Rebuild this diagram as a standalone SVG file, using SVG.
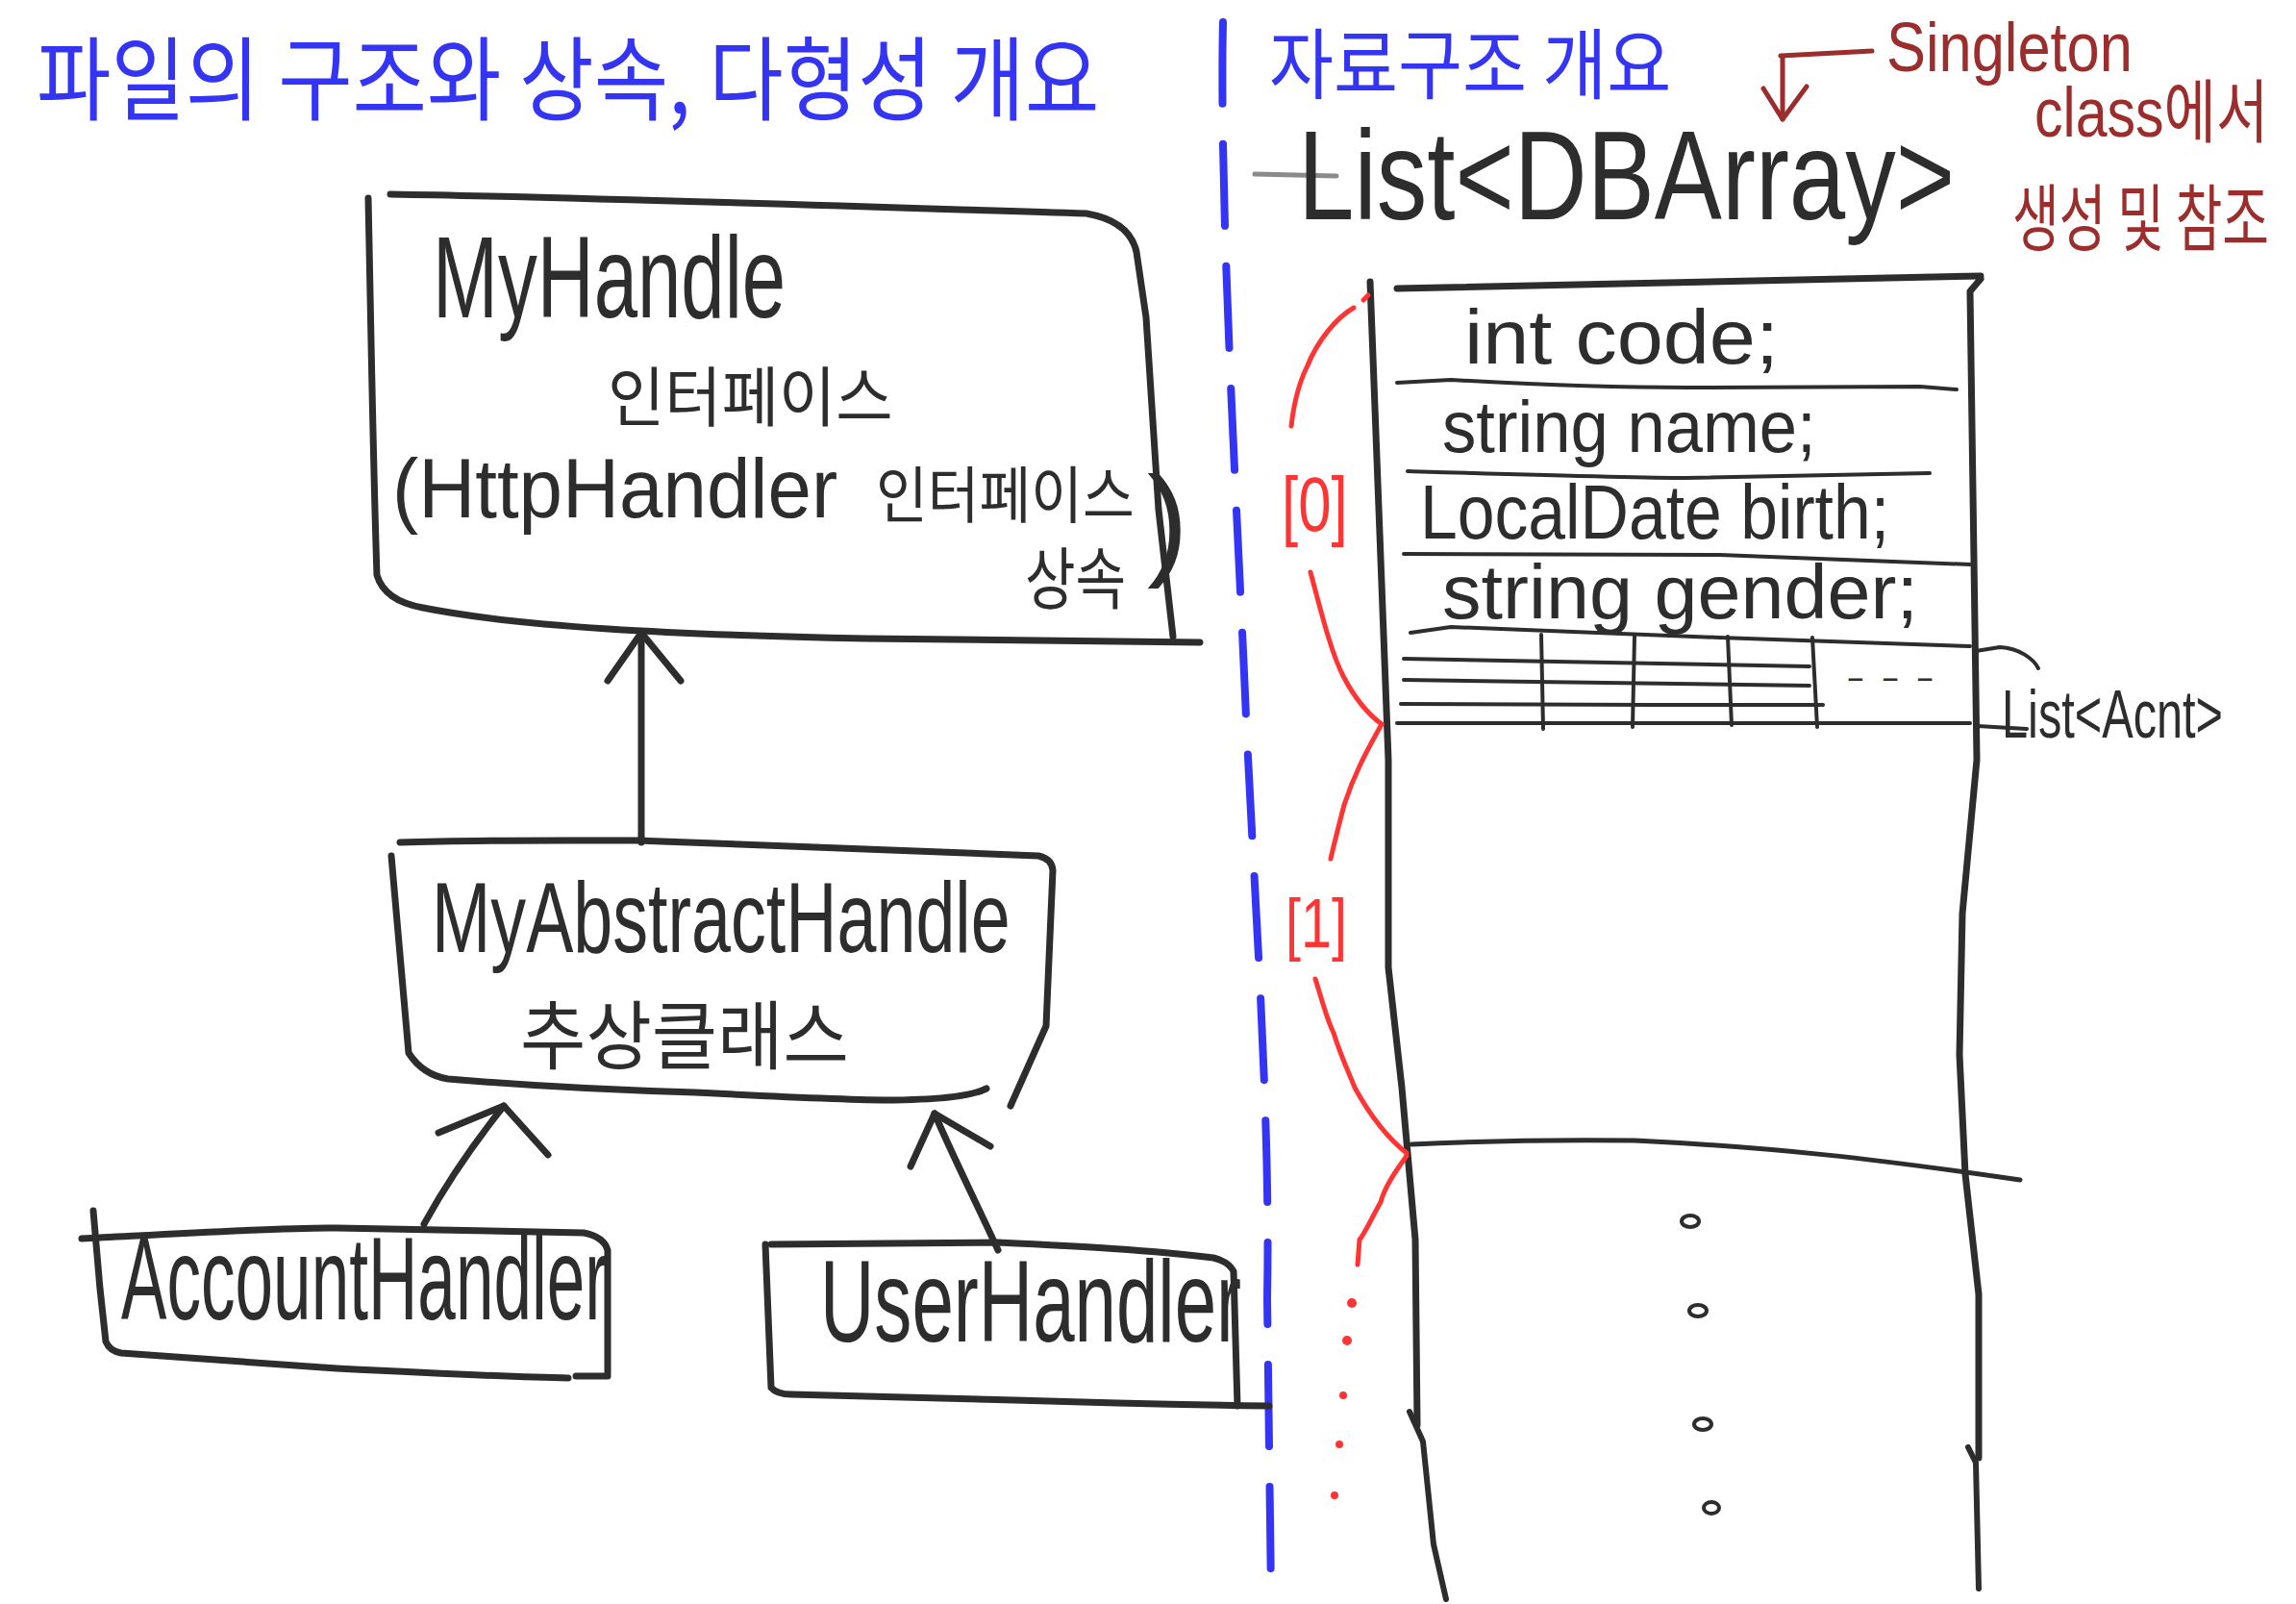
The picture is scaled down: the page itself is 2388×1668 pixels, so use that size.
<svg xmlns="http://www.w3.org/2000/svg" width="2388" height="1668" viewBox="0 0 2388 1668">
<style>
.ink{fill:none;stroke:#2d2d2d;stroke-linecap:round;stroke-linejoin:round}
.box{stroke-width:7}
.thin{stroke-width:4}
.red{fill:none;stroke:#ff3535;stroke-width:5;stroke-linecap:round;stroke-linejoin:round}
.dred{fill:none;stroke:#9b2d2d;stroke-width:5;stroke-linecap:round;stroke-linejoin:round}
.t{font-family:"Liberation Sans","Noto Sans CJK KR",sans-serif;fill:#2d2d2d}
.k{font-family:"Noto Sans CJK KR","Liberation Sans",sans-serif;fill:#2d2d2d}
.blue{fill:#3434f4}
.dr{fill:#9b2d2d}
.rt{fill:#ff3535}
</style>
<rect width="2388" height="1668" fill="#ffffff"/>

<g id="titles">
<text class="k blue" transform="translate(38,118) scale(0.82,1)" font-size="95" textLength="1348" lengthAdjust="spacingAndGlyphs">파일의 구조와 상속, 다형성 개요</text>
<text class="k blue" transform="translate(1320,96) scale(0.84,1)" font-size="80" textLength="498" lengthAdjust="spacingAndGlyphs">자료구조 개요</text>
</g>

<path d="M1272,23 C1268,200 1285,500 1294,700 C1302,900 1322,1150 1318,1350 L1322,1660" fill="none" stroke="#3434f4" stroke-width="8" stroke-dasharray="85 42" stroke-linecap="round"/>

<g id="node-myhandle">
<path class="ink box" d="M383,206 C386,350 388,480 392,598 Q400,625 440,632 C540,652 700,660 900,664 L1248,668"/>
<path class="ink box" d="M406,202 C600,205 900,215 1130,222 Q1175,230 1182,262 L1192,330 L1205,530 L1220,662"/>
<text class="t" transform="translate(450,330) scale(0.68,1)" font-size="120" textLength="540" lengthAdjust="spacingAndGlyphs">MyHandle</text>
<text class="k" transform="translate(632,438) scale(0.87,1)" font-size="68" textLength="341" lengthAdjust="spacingAndGlyphs">인터페이스</text>
<text class="t" transform="translate(408,538) scale(0.93,1)" font-size="88" textLength="498" lengthAdjust="spacingAndGlyphs">(HttpHandler</text>
<text class="k" transform="translate(911,538) scale(0.84,1)" font-size="64" textLength="320" lengthAdjust="spacingAndGlyphs">인터페이스</text>
<text class="k" transform="translate(1066,628) scale(0.75,1)" font-size="70" textLength="140" lengthAdjust="spacingAndGlyphs">상속</text>
<text class="t" x="1193" y="585" font-size="128">)</text>
</g>

<g id="node-myabstracthandle">
<path class="ink box" d="M416,876 C500,873 600,874 665,874 C760,878 850,882 1080,890 Q1094,893 1095,905 L1088,1067 L1051,1150"/>
<path class="ink box" d="M407,890 L425,1095 Q440,1118 466,1122 C560,1130 650,1134 723,1136 C800,1140 880,1144 930,1144 C980,1143 1010,1140 1026,1132"/>
<text class="t" transform="translate(449,990) scale(0.69,1)" font-size="104" textLength="872" lengthAdjust="spacingAndGlyphs">MyAbstractHandle</text>
<text class="k" transform="translate(541,1106) scale(0.87,1)" font-size="78" textLength="393" lengthAdjust="spacingAndGlyphs">추상클래스</text>
</g>

<g id="node-accounthandler">
<path class="ink box" d="M85,1288 C200,1282 300,1276 350,1277 C450,1279 550,1281 607,1282 Q628,1286 632,1300 L632,1431 L599,1431"/>
<path class="ink box" d="M97,1259 L104,1340 L110,1395 Q114,1405 126,1407 C220,1414 300,1420 350,1423 C450,1428 530,1432 591,1433"/>
<text class="t" transform="translate(126,1372) scale(0.583,1)" font-size="122" textLength="868" lengthAdjust="spacingAndGlyphs">AccountHandler</text>
</g>

<g id="node-userhandler">
<path class="ink box" d="M796,1294 L802,1443 Q808,1450 823,1450 C900,1452 980,1454 1055,1456 C1150,1459 1250,1461 1320,1462"/>
<path class="ink box" d="M802,1294 C900,1293 980,1292 1038,1292 C1120,1296 1200,1300 1262,1308 Q1278,1312 1283,1322 L1287,1462"/>
<text class="t" transform="translate(853,1395) scale(0.65,1)" font-size="120" textLength="674" lengthAdjust="spacingAndGlyphs">UserHandler</text>
</g>

<g id="connectors">
<path class="ink box" d="M667,876 L667,662"/>
<path class="ink box" d="M632,708 L667,658 L708,708"/>
<path class="ink box" d="M441,1273 C470,1220 500,1180 524,1150"/>
<path class="ink box" d="M456,1178 L524,1150 L570,1201"/>
<path class="ink box" d="M1038,1300 C1015,1250 990,1200 972,1158"/>
<path class="ink box" d="M947,1213 L972,1158 L1030,1192"/>
</g>

<g id="node-list-dbarray">
<line x1="1305" y1="181" x2="1390" y2="183" stroke="#8a8a8a" stroke-width="5" stroke-linecap="round"/>
<text class="t" transform="translate(1350,228) scale(0.8,1)" font-size="132" textLength="854" lengthAdjust="spacingAndGlyphs">List&lt;DBArray&gt;</text>
</g>

<g id="note-singleton">
<path class="dred" d="M1947,53 L1852,58"/>
<path class="dred" d="M1854,60 L1854,124"/>
<path class="dred" d="M1834,92 L1854,124 L1879,90"/>
<text class="t dr" transform="translate(1962,74) scale(0.85,1)" font-size="72" textLength="301" lengthAdjust="spacingAndGlyphs">Singleton</text>
<text class="t dr" transform="translate(2116,142) scale(0.79,1)" font-size="72" textLength="308" lengthAdjust="spacingAndGlyphs">class에서</text>
<text class="k dr" transform="translate(2093,255) scale(0.645,1)" font-size="76" textLength="414" lengthAdjust="spacingAndGlyphs">생성 및 참조</text>
</g>

<g id="node-table">
<path class="ink box" d="M1453,300 C1700,296 1900,290 2060,287"/>
<path class="ink box" d="M1425,293 L1444,790 L1444,1006 L1458,1131 L1472,1289 L1474,1482"/>
<path class="ink" stroke-width="6" d="M1466,1468 L1480,1499 L1491,1606 L1504,1663"/>
<path class="ink box" d="M2060,290 L2049,303 L2056,790 L2041,950 L2038,1097 L2044,1221 L2058,1346 L2058,1516"/>
<path class="ink" stroke-width="6" d="M2047,1505 L2055,1521 L2058,1652"/>
<path class="ink" stroke-width="5" d="M1468,1190 C1550,1186 1627,1185 1700,1186 C1845,1193 1950,1205 2101,1227"/>
<path class="ink thin" d="M1453,398 L1509,395 C1600,400 1700,403 1753,403 L1997,402 L2035,405"/>
<path class="ink thin" d="M1464,490 C1600,494 1700,497 1753,497 L2007,492"/>
<path class="ink thin" d="M1460,576 L1788,577 L2049,587"/>
<path class="ink thin" d="M1467,658 L1509,652 C1650,658 1750,662 1788,663 L2049,672"/>
<path class="ink thin" d="M1460,685 L1882,693"/>
<path class="ink thin" d="M1460,707 L1882,713"/>
<path class="ink thin" d="M1457,732 L1718,733 L1896,733"/>
<path class="ink thin" d="M1453,752 L2049,752"/>
<path class="ink thin" d="M1603,660 L1605,758"/>
<path class="ink thin" d="M1700,662 L1698,756"/>
<path class="ink thin" d="M1797,662 L1801,754"/>
<path class="ink thin" d="M1885,663 L1890,756"/>
<text class="t" x="1523" y="378" font-size="80" textLength="327" lengthAdjust="spacingAndGlyphs">int code;</text>
<text class="t" transform="translate(1500,470) scale(0.93,1)" font-size="76" textLength="418" lengthAdjust="spacingAndGlyphs">string name;</text>
<text class="t" transform="translate(1477,560) scale(0.87,1)" font-size="80" textLength="561" lengthAdjust="spacingAndGlyphs">LocalDate birth;</text>
<text class="t" x="1500" y="643" font-size="80" textLength="495" lengthAdjust="spacingAndGlyphs">string gender;</text>
<text class="t" x="1920" y="716" font-size="34" textLength="92" lengthAdjust="spacingAndGlyphs">- - -</text>
<path class="ink thin" d="M2055,677 L2080,673 C2100,674 2115,685 2120,695"/>
<path class="ink thin" d="M2057,755 L2108,758"/>
<text class="t" transform="translate(2082,767) scale(0.695,1)" font-size="70" textLength="331" lengthAdjust="spacingAndGlyphs">List&lt;Acnt&gt;</text>
<ellipse class="ink" stroke-width="4" cx="1758" cy="1270" rx="9" ry="6"/>
<ellipse class="ink" stroke-width="4" cx="1766" cy="1363" rx="9" ry="6"/>
<ellipse class="ink" stroke-width="4" cx="1771" cy="1481" rx="9" ry="6"/>
<ellipse class="ink" stroke-width="4" cx="1780" cy="1568" rx="8" ry="6"/>
</g>

<g id="node-index-brackets">
<path class="red" d="M1418,312 L1423,307"/>
<path class="red" d="M1408,320 C1390,330 1370,355 1360,380 C1350,400 1345,425 1343,443"/>
<text class="t rt" transform="translate(1333,552) scale(0.78,1)" font-size="80" textLength="88" lengthAdjust="spacingAndGlyphs">[0]</text>
<path class="red" d="M1363,595 C1375,640 1385,680 1397,703 C1410,728 1422,742 1437,753"/>
<path class="red" d="M1437,753 C1425,775 1410,800 1398,837 C1392,860 1387,880 1384,893"/>
<text class="t rt" transform="translate(1337,985) scale(0.8,1)" font-size="72" textLength="80" lengthAdjust="spacingAndGlyphs">[1]</text>
<path class="red" d="M1368,1018 C1375,1040 1380,1060 1387,1074 C1395,1100 1405,1120 1409,1131 C1425,1160 1445,1185 1463,1199"/>
<path class="red" d="M1463,1202 C1450,1220 1440,1235 1436,1250 C1425,1270 1418,1285 1414,1289 L1412,1315"/>
<circle cx="1406" cy="1355" r="5" fill="#ff3535"/>
<circle cx="1401" cy="1394" r="5" fill="#ff3535"/>
<circle cx="1397" cy="1451" r="4" fill="#ff3535"/>
<circle cx="1393" cy="1502" r="4" fill="#ff3535"/>
<circle cx="1388" cy="1555" r="4" fill="#ff3535"/>
</g>
</svg>
